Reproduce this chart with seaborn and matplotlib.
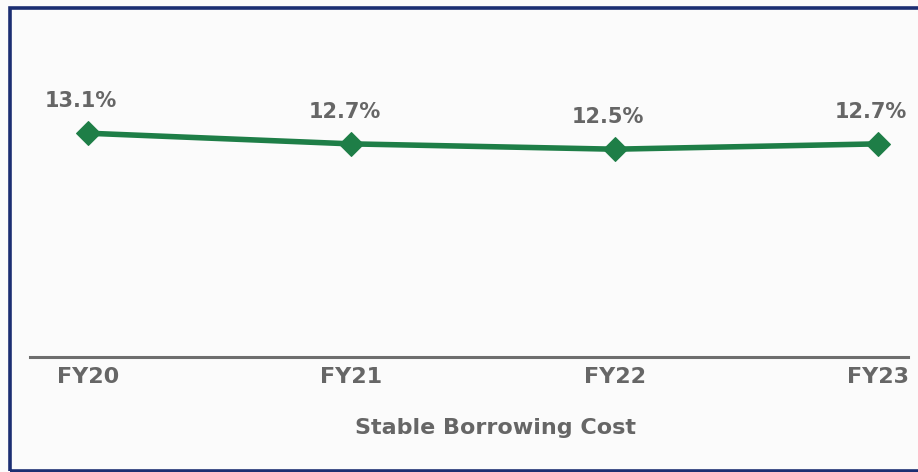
import matplotlib
matplotlib.use("Agg")
import matplotlib.pyplot as plt
import matplotlib.patches as mpatches
import pandas as pd
import seaborn as sns

years = ["FY20", "FY21", "FY22", "FY23"]
cost = [13.1, 12.7, 12.5, 12.7]
labels = ["13.1%", "12.7%", "12.5%", "12.7%"]

GREEN = "#1e7e47"
GREY = "#666666"
NAVY = "#1b2e72"

sns.set_theme(style="white")
plt.rcParams["font.family"] = ["DejaVu Sans"]

df = pd.DataFrame({"x": range(len(years)), "cost": cost})

fig = plt.figure(figsize=(9.18, 4.72), dpi=100)
fig.patch.set_facecolor("#fbfbfb")
ax = fig.add_axes([30 / 918, 115 / 472, 878 / 918, 349 / 472])
ax.set_facecolor("none")

sns.lineplot(data=df, x="x", y="cost", ax=ax, color=GREEN, linewidth=4,
             marker="D", markersize=12, markeredgecolor=GREEN)

for i, (v, lab) in enumerate(zip(cost, labels)):
    ax.annotate(lab, (i, v), xytext=(-5, 16), textcoords="offset points",
                ha="center", va="bottom", fontsize=15, fontweight="bold",
                color=GREY)

ax.set_xlim(-0.22, 3.114)
ax.set_ylim(4.7, 17.8)
ax.set_xticks(range(len(years)))
ax.set_xticklabels(years, fontsize=16, fontweight="bold", color=GREY)
ax.tick_params(axis="x", length=0, pad=7)
ax.set_yticks([])
ax.set_xlabel("Stable Borrowing Cost", fontsize=16, fontweight="bold",
              color=GREY)
ax.xaxis.set_label_coords(0.53, -0.175)
ax.set_ylabel("")
for side in ["top", "right", "left"]:
    ax.spines[side].set_visible(False)
ax.spines["bottom"].set_color("#6e6e6e")
ax.spines["bottom"].set_linewidth(2.2)

frame = mpatches.Rectangle((9.5 / 918, 1.5 / 472), 1.0, 463 / 472,
                           transform=fig.transFigure, fill=False,
                           edgecolor=NAVY, linewidth=2.6, zorder=10)
fig.patches.append(frame)

fig.savefig("out.png", dpi=100, facecolor=fig.get_facecolor())
